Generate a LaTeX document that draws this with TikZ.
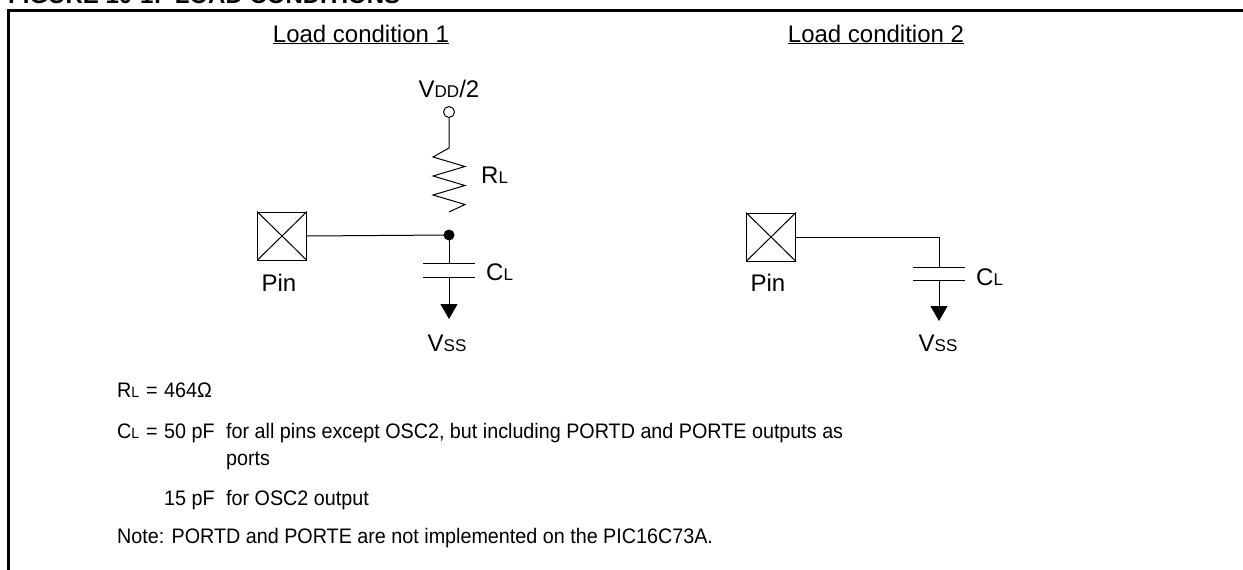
\documentclass[tikz,border=0pt]{standalone}
\usepackage{fontspec}
\setmainfont{Liberation Sans}
\newfontfamily\notefont[FakeStretch=0.94]{Liberation Sans}
\usetikzlibrary{calc}
\usetikzlibrary{positioning}
\usetikzlibrary{arrows.meta}
\newcommand{\lowcap}[1]{{\fontsize{17}{17}\selectfont #1}}
\newcommand{\notecap}[1]{{\fontsize{15}{15}\selectfont #1}}

\begin{document}
\begin{tikzpicture}[x=1pt,y=-1pt,>=latex,
    txt/.style={inner sep=0pt,font=\fontsize{24}{28}\selectfont},
    note/.style={inner sep=0pt,anchor=base west,font=\notefont\fontsize{21}{25}\selectfont},
    pinbox/.style={draw,minimum width=49pt,minimum height=48pt,inner sep=0pt,line width=1pt},
    wire/.style={line width=1pt},
    gnd/.style={line width=1pt,-{Triangle[width=17pt,length=15pt]}}]
  \useasboundingbox (0,0) rectangle (1243,570);
  \clip (0,0) rectangle (1243,570);
  % frame and title
  \node[txt,anchor=base west,font=\fontsize{24}{28}\selectfont\bfseries] (title) at (8,3) {FIGURE 10-1:\ \ LOAD CONDITIONS};
  \coordinate (fr) at (8.5,10.5);
  \draw[line width=2.5pt] (fr |- 0,580) -- (fr) -- (fr -| 1260,0);
  \node[txt,anchor=base] (head1) at (361,42) {\underline{Load condition 1}};
  \node[txt,anchor=base] (head2) at (876,42) {\underline{Load condition 2}};

  % load condition 1
  \node[txt,anchor=base] (vdd) at (449,97) {V\lowcap{DD}/2};
  \node[draw,circle,inner sep=0pt,minimum size=11pt,line width=1pt] (vddpin) at (449,112) {};
  \coordinate (rtop) at (449,148);
  \coordinate (rbot) at (449,212);
  \draw[wire] (vddpin) -- (rtop) -- ++(-16,9) -- ++(32,9.5) -- ++(-32,9.5) -- ++(32,9.5) -- ++(-32,9.5) -- ++(32,9.5) -- (rbot);
  \node[txt,anchor=west] (rl) at (481,175) {R\lowcap{L}};
  \node[circle,fill,inner sep=0pt,minimum size=11pt] (junc) at (449,235) {};
  \node[pinbox] (pin1) at (282,236) {};
  \draw[wire] (pin1.north west) -- (pin1.south east) (pin1.south west) -- (pin1.north east);
  \node[txt,anchor=base] (pinl1) at (279,291) {Pin};
  \draw[wire] (pin1.east) -- (junc.center);
  \coordinate (ctop1) at (449,263);
  \coordinate (cbot1) at (449,277);
  \draw[wire] (junc.center) -- (ctop1);
  \draw[wire] ([xshift=-26pt] ctop1) -- ([xshift=26pt] ctop1);
  \draw[wire] ([xshift=-26pt] cbot1) -- ([xshift=26pt] cbot1);
  \coordinate (g1) at (449,319);
  \draw[gnd] (cbot1) -- (g1);
  \node[txt,anchor=west] (cl1) at (486,272) {C\lowcap{L}};
  \node[txt,anchor=base] (vss1) at (447,351) {V\lowcap{SS}};

  % load condition 2
  \node[pinbox] (pin2) at (771,237) {};
  \draw[wire] (pin2.north west) -- (pin2.south east) (pin2.south west) -- (pin2.north east);
  \node[txt,anchor=base] (pinl2) at (768,291) {Pin};
  \coordinate (ctop2) at (939,267);
  \coordinate (cbot2) at (939,280);
  \draw[wire] (pin2.east) -| (ctop2);
  \draw[wire] ([xshift=-26pt] ctop2) -- ([xshift=26pt] ctop2);
  \draw[wire] ([xshift=-26pt] cbot2) -- ([xshift=26pt] cbot2);
  \coordinate (g2) at (939,321);
  \draw[gnd] (cbot2) -- (g2);
  \node[txt,anchor=west] (cl2) at (976,277) {C\lowcap{L}};
  \node[txt,anchor=base] (vss2) at (938,351) {V\lowcap{SS}};

  % notes
  \node[note] (rlname) at (117,397) {R\notecap{L}};
  \node[note] (rleq) at (146,397) {=};
  \node[note] (rlval) at (164,397) {464Ω};
  \node[note] (clname) at (117,438) {C\notecap{L}};
  \node[note] (cleq) at (146,438) {=};
  \node[note] (clval1) at (164,438) {50 pF};
  \node[note] (cltxt1) at (226,438) {for all pins except OSC2, but including PORTD and PORTE outputs as};
  \node[note] (cltxt2) at (226,465) {ports};
  \node[note] (clval2) at (164,505) {15 pF};
  \node[note] (cltxt3) at (226,505) {for OSC2 output};
  \node[note] (remark) at (117,543) {Note: PORTD and PORTE are not implemented on the PIC16C73A.};
\end{tikzpicture}
\end{document}
